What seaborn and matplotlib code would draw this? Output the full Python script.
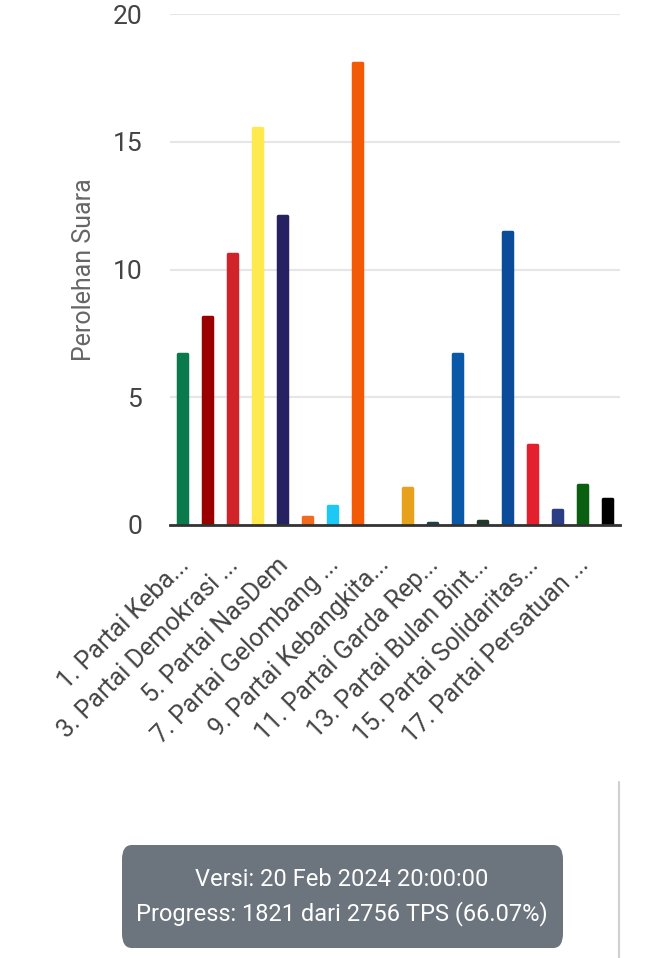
import seaborn as sns
import pandas as pd
import matplotlib.pyplot as plt
import matplotlib.transforms as mtrans
from matplotlib.patches import FancyBboxPatch
from matplotlib.lines import Line2D

partai = ['1. Partai Keba...', '2. Partai Gerakan ...', '3. Partai Demokrasi ...', '4. Partai Golongan ...',
          '5. Partai NasDem', '6. Partai Buruh', '7. Partai Gelombang ...', '8. Partai Keadilan ...',
          '9. Partai Kebangkita...', '10. Partai Hati Nur...', '11. Partai Garda Rep...', '12. Partai Amanat ...',
          '13. Partai Bulan Bint...', '14. Partai Demokrat', '15. Partai Solidaritas...', '16. Partai Perindo',
          '17. Partai Persatuan ...', '18. Partai Ummat']
suara = [6.7, 8.15, 10.6, 15.55, 12.1, 0.3, 0.75, 18.1, 0.0, 1.45,
         0.08, 6.7, 0.15, 11.48, 3.15, 0.6, 1.55, 1.0]
warna = ['#0a7a4c', '#9b0000', '#d0232a', '#ffe94f', '#262262', '#f26b1d', '#1ec8f5', '#f35a06', '#ffffff',
         '#e8a11d', '#1e4050', '#0a58a8', '#1d3a2a', '#0a4c9a', '#e4202e', '#2b3d85', '#0a6010', '#000000']
versi = 'Versi: 20 Feb 2024 20:00:00'
progress = 'Progress: 1821 dari 2756 TPS (66.07%)'

df = pd.DataFrame({'partai': partai, 'suara': suara})

sns.set_style('white')
plt.rcParams['font.family'] = ['Roboto', 'DejaVu Sans']

fig = plt.figure(figsize=(6.6, 9.58), dpi=100)
ax = fig.add_axes([170 / 660, 1 - 525 / 958, 450 / 660, 511 / 958])

sns.barplot(data=df, x='partai', y='suara', hue='partai', palette=warna, legend=False,
            width=0.36, saturation=1, ax=ax, zorder=3)

# rounded top like the web chart
for p, c in zip(ax.patches, warna):
    p.set_edgecolor(c)
    p.set_linewidth(2.5)
    p.set_joinstyle('round')

ax.set_ylim(0, 20)
ax.set_yticks([0, 5, 10, 15, 20])
ax.yaxis.grid(True, color='#e6e6e6', linewidth=1.5, zorder=0)
ax.set_xlim(-0.5, len(partai) - 0.5)
for s in ['top', 'right', 'left']:
    ax.spines[s].set_visible(False)
ax.spines['bottom'].set_color('#333333')
ax.spines['bottom'].set_linewidth(2)
ax.spines['bottom'].set_zorder(4)

ax.set_xticks(range(len(partai)))
ax.set_xticklabels([t if i % 2 == 0 else '' for i, t in enumerate(partai)],
                   rotation=45, ha='right', rotation_mode='anchor', fontsize=18, color='#444444')
ax.tick_params(axis='x', length=0, pad=20)
geser = mtrans.ScaledTranslation(-6 / 100, 0, fig.dpi_scale_trans)
for lbl in ax.get_xticklabels():
    lbl.set_transform(lbl.get_transform() + geser)
ax.tick_params(axis='y', length=0, pad=20, labelsize=19, labelcolor='#444444')
ax.set_xlabel('')
ax.set_ylabel('Perolehan Suara', fontsize=18, color='#666666', labelpad=12)

# info box
box = FancyBboxPatch((122 / 660, 1 - 948 / 958), 441 / 660, 103 / 958,
                     boxstyle='round,pad=0,rounding_size=0.015', transform=fig.transFigure,
                     facecolor='#6c757d', edgecolor='none')
fig.patches.append(box)
fig.text(342 / 660, 1 - 880 / 958, versi, ha='center', va='center', color='white', fontsize=17)
fig.text(342 / 660, 1 - 914 / 958, progress, ha='center', va='center', color='white', fontsize=17)
fig.lines.append(Line2D([619 / 660, 619 / 660], [0, 1 - 782 / 958], transform=fig.transFigure,
                        color='#d0d0d0', linewidth=1.5))

fig.savefig('out.png', dpi=100)
